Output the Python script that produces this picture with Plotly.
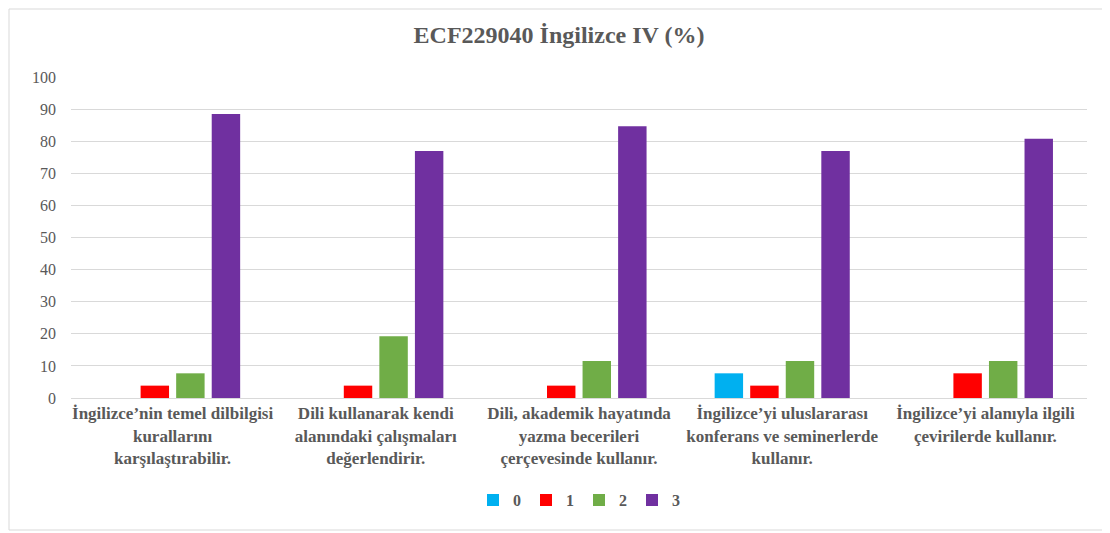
import plotly.graph_objects as go

categories = [
    "İngilizce’nin temel dilbilgisi<br>kurallarını<br>karşılaştırabilir.",
    "Dili kullanarak kendi<br>alanındaki çalışmaları<br>değerlendirir.",
    "Dili, akademik hayatında<br>yazma becerileri<br>çerçevesinde kullanır.",
    "İngilizce’yi uluslararası<br>konferans ve seminerlerde<br>kullanır.",
    "İngilizce’yi alanıyla ilgili<br>çevirilerde kullanır.",
]
series_names = ["0", "1", "2", "3"]
s0 = [0, 0, 0, 7.69, 0]
s1 = [3.85, 3.85, 3.85, 3.85, 7.69]
s2 = [7.69, 19.23, 11.54, 11.54, 11.54]
s3 = [88.46, 76.92, 84.62, 76.92, 80.77]
colors = ["#00B0F0", "#FF0000", "#70AD47", "#7030A0"]

fig = go.Figure()
for name, vals, c in zip(series_names, [s0, s1, s2, s3], colors):
    fig.add_trace(go.Bar(name=name, x=categories, y=vals, marker_color=c,
                         marker_line_width=0))

ff = "Liberation Serif, Times New Roman, serif"
fig.update_layout(
    width=1102, height=525,
    paper_bgcolor="white", plot_bgcolor="white",
    margin=dict(l=63, r=23, t=69, b=135),
    barmode="group", bargap=0.3, bargroupgap=0.2,
    title=dict(text="ECF229040 İngilizce IV (%)", x=0.5, xanchor="center",
               y=0.949, yanchor="middle",
               font=dict(family=ff, size=24, color="#595959", weight="bold")),
    font=dict(family=ff, color="#595959"),
    legend=dict(orientation="h", x=0.5, xanchor="center", y=-0.318, yanchor="middle",
                font=dict(family=ff, size=16, color="#595959", weight="bold"),
                traceorder="normal", itemwidth=30),
    showlegend=True,
)
fig.update_yaxes(range=[0, 100], dtick=10, showgrid=True, gridcolor="#D9D9D9",
                 gridwidth=1, zeroline=False, showline=False,
                 tickfont=dict(family=ff, size=16, color="#595959"),
                 ticks="", ticklabelstandoff=14)
fig.update_xaxes(showline=True, linecolor="#D9D9D9", linewidth=1, ticks="",
                 tickfont=dict(family=ff, size=17, color="#595959", weight="bold"),
                 tickangle=0)
fig.add_shape(type="rect", xref="paper", yref="paper",
              x0=-62/1016, x1=1033/1016, y0=-132/321, y1=389/321,
              line=dict(color="#D9D9D9", width=1), fillcolor="rgba(0,0,0,0)", layer="below")
fig.write_html("out.html")
